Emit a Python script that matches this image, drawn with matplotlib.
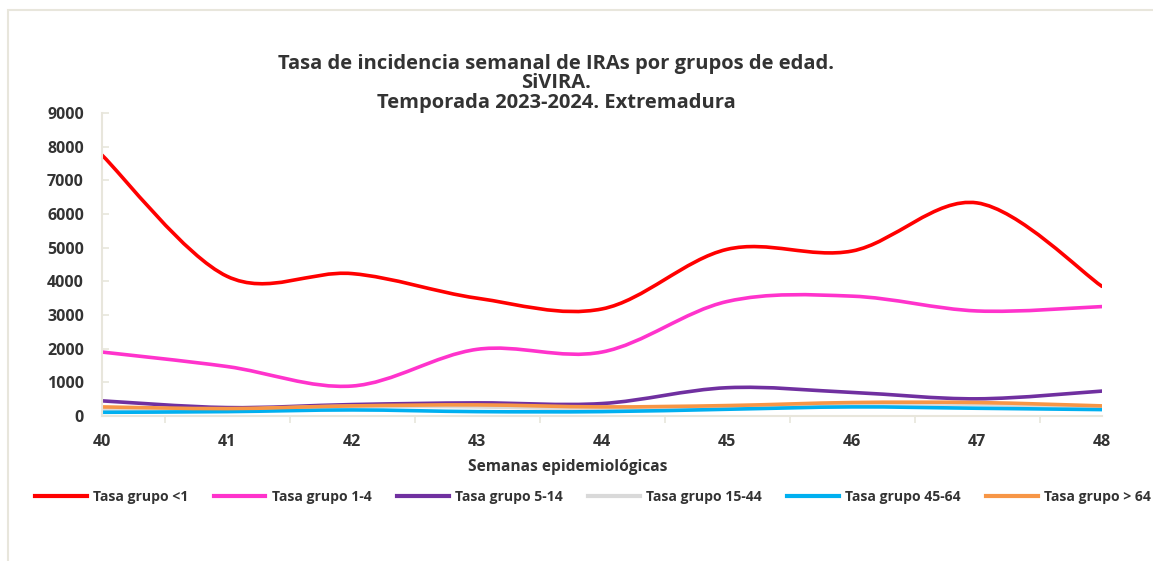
import numpy as np
import matplotlib.pyplot as plt
from matplotlib.path import Path
from matplotlib.patches import PathPatch, Rectangle
from matplotlib.lines import Line2D

plt.rcParams['font.family'] = ['Open Sans', 'DejaVu Sans']

# Datos
semanas = [40, 41, 42, 43, 44, 45, 46, 47, 48]
grupo_menor1 = [7750, 4150, 4230, 3500, 3180, 4950, 4900, 6330, 3850]
grupo_1_4 = [1900, 1470, 890, 1980, 1900, 3400, 3560, 3120, 3250]
grupo_5_14 = [450, 250, 340, 390, 370, 840, 700, 510, 740]
grupo_15_44 = [190, 200, 290, 270, 210, 280, 360, 340, 270]
grupo_45_64 = [110, 130, 180, 130, 130, 200, 270, 230, 190]
grupo_mayor64 = [270, 220, 300, 330, 270, 310, 400, 400, 300]

etiquetas = ['Tasa grupo <1', 'Tasa grupo 1-4', 'Tasa grupo 5-14',
             'Tasa grupo 15-44', 'Tasa grupo 45-64', 'Tasa grupo > 64']
colores = ['#ff0000', '#ff33cc', '#7030a0', '#d9d9d9', '#00b0f0', '#f79646']
series = [grupo_menor1, grupo_1_4, grupo_5_14, grupo_15_44, grupo_45_64, grupo_mayor64]

texto = '#333333'
borde = '#e8e6dc'


def curva_suave(x, y):
    # linea suavizada tipo Excel (Catmull-Rom como Bezier cubica)
    p = np.column_stack([x, y]).astype(float)
    ext = np.vstack([p[0], p, p[-1]])
    verts = [p[0]]
    codes = [Path.MOVETO]
    for i in range(len(p) - 1):
        p0, p1, p2, p3 = ext[i], ext[i + 1], ext[i + 2], ext[i + 3]
        verts += [p1 + (p2 - p0) / 6, p2 - (p3 - p1) / 6, p2]
        codes += [Path.CURVE4] * 3
    return Path(verts, codes)


fig = plt.figure(figsize=(11.53, 5.61), dpi=100)
ax = fig.add_axes([102 / 1153, 1 - 416 / 561, 1000 / 1153, 303 / 561])

for s, c in zip(series, colores):
    ax.add_patch(PathPatch(curva_suave(semanas, s), facecolor='none',
                           edgecolor=c, lw=2.6, capstyle='round'))

ax.set_xlim(40, 48)
ax.set_ylim(0, 9000)
ax.set_yticks(range(0, 9001, 1000))
ax.set_xticks(semanas)
ax.set_xticks(np.arange(40.5, 48, 1), minor=True)
ax.tick_params(axis='x', which='major', length=0, pad=13)
ax.tick_params(axis='x', which='minor', length=5, color=borde, width=1.2)
ax.tick_params(axis='y', length=5, direction='in', color=borde, width=1.2, pad=13)
for lab in ax.get_xticklabels() + ax.get_yticklabels():
    lab.set_fontweight('bold')
    lab.set_fontsize(11.5)
    lab.set_color(texto)

for lado in ['top', 'right']:
    ax.spines[lado].set_visible(False)
for lado in ['left', 'bottom']:
    ax.spines[lado].set_color(borde)
    ax.spines[lado].set_linewidth(1.5)

fig.text(556 / 1153, 1 - 83.5 / 561,
         'Tasa de incidencia semanal de IRAs por grupos de edad.\nSiVIRA.\nTemporada 2023-2024. Extremadura',
         ha='center', va='center', fontsize=14.5, fontweight='bold', color=texto,
         linespacing=0.94)

fig.text(568 / 1153, 1 - 467 / 561, 'Semanas epidemiológicas', ha='center', va='center',
         fontsize=11.2, fontweight='bold', color=texto)

manejadores = [Line2D([], [], color=c, lw=3) for c in colores]
fig.legend(manejadores, etiquetas, loc='center', bbox_to_anchor=(593 / 1153, 1 - 497 / 561),
           ncol=6, frameon=False, handlelength=3.7, handletextpad=0.45, columnspacing=1.8,
           prop={'weight': 'bold', 'size': 10.1}, labelcolor=texto)

# marco exterior del grafico
fig.add_artist(Rectangle((8 / 1153, -0.1), 1.2, 1.1 - 10 / 561, transform=fig.transFigure,
                         fill=False, edgecolor=borde, lw=1.5))

fig.savefig('out.png', dpi=100)
